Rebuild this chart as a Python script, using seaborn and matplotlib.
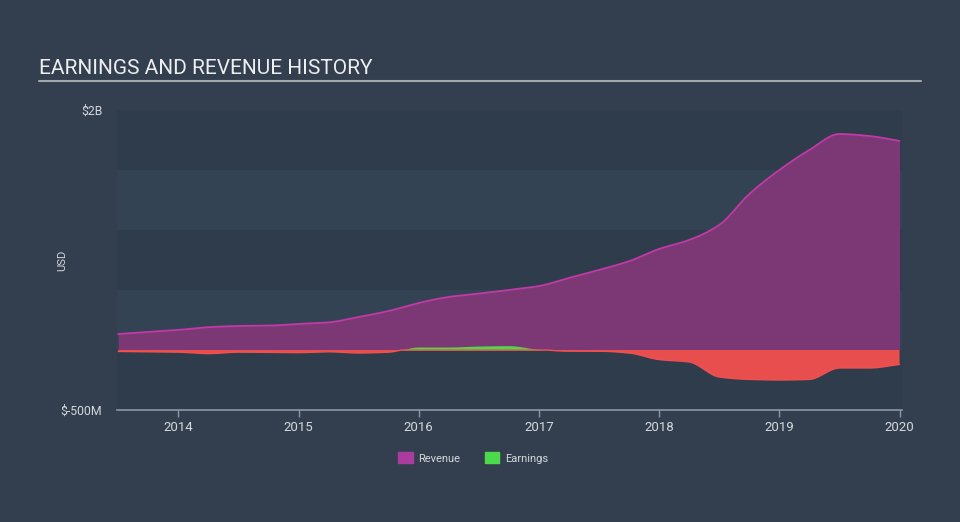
import matplotlib
matplotlib.use("Agg")
import matplotlib.pyplot as plt
import matplotlib.patches as mpatches
import seaborn as sns
import numpy as np
import pandas as pd

# ---- data ----
years = [2013.5, 2013.75, 2014.0, 2014.25, 2014.5, 2014.75, 2015.0, 2015.25,
         2015.5, 2015.75, 2016.0, 2016.25, 2016.5, 2016.75, 2017.0, 2017.25,
         2017.5, 2017.75, 2018.0, 2018.25, 2018.5, 2018.75, 2019.0, 2019.25,
         2019.5, 2019.75, 2020.0]
revenue_m = [133, 150, 167, 190, 200, 203, 217, 230,
             275, 325, 392, 442, 470, 500, 533, 600,
             667, 740, 842, 917, 1042, 1300, 1500, 1667,
             1800, 1783, 1742]
earnings_m = [-12, -15, -18, -30, -18, -20, -22, -15,
              -25, -18, 25, 25, 33, 36, 5, -10,
              -10, -25, -80, -100, -225, -245, -250, -245,
              -150, -150, -120]
x_ticks = [2014, 2015, 2016, 2017, 2018, 2019, 2020]
y_tick_vals = [-500, 2000]
y_tick_labels = ["$-500M", "$2B"]

df = pd.DataFrame({"year": years, "Revenue": revenue_m, "Earnings": earnings_m})


def pchip(x, y, n=12):
    """Monotone cubic rendering of a series (drawing only)."""
    x = np.asarray(x, float); y = np.asarray(y, float)
    h = np.diff(x); d = np.diff(y) / h
    m = np.zeros_like(y)
    for k in range(1, len(x) - 1):
        if d[k-1] * d[k] > 0:
            w1 = 2*h[k] + h[k-1]; w2 = h[k] + 2*h[k-1]
            m[k] = (w1 + w2) / (w1/d[k-1] + w2/d[k])
    m[0] = d[0]; m[-1] = d[-1]
    xs, ys = [], []
    for k in range(len(x) - 1):
        t = np.linspace(0, 1, n, endpoint=False)
        h00 = 2*t**3 - 3*t**2 + 1; h10 = t**3 - 2*t**2 + t
        h01 = -2*t**3 + 3*t**2; h11 = t**3 - t**2
        xs.append(x[k] + t*h[k])
        ys.append(h00*y[k] + h10*h[k]*m[k] + h01*y[k+1] + h11*h[k]*m[k+1])
    xs.append([x[-1]]); ys.append([y[-1]])
    return np.concatenate(xs), np.concatenate(ys)


BG = "#333f4f"
DARK = "#2f3c4c"
LIGHT = "#344354"
REV_FILL = "#7b3874"
REV_LINE = "#c23aa8"
EARN_NEG = "#e84e4e"
EARN_POS = "#4cd94c"
TXT = "#d4d8dc"

sns.set_theme(style="dark")
plt.rcParams['font.family'] = ['Roboto', 'DejaVu Sans']

fig = plt.figure(figsize=(9.6, 5.22), dpi=100, facecolor=BG)
ax = fig.add_axes([117/960, 1-410/522, 785/960, 300/522])
ax.set_facecolor(BG)

x0, x1 = 2013.49, 2020.02
ax.set_xlim(x0, x1)
ax.set_ylim(-500, 2000)

# bands
for i, lo in enumerate(range(-500, 2000, 500)):
    ax.axhspan(lo, lo+500, color=DARK if i % 2 == 0 else LIGHT, lw=0, zorder=0)

# revenue
rx, ry = pchip(df["year"], df["Revenue"])
smooth_rev = pd.DataFrame({"year": rx, "Revenue": ry})
ax.fill_between(rx, 0, ry, color=REV_FILL, lw=0, zorder=2)
sns.lineplot(data=smooth_rev, x="year", y="Revenue", color=REV_LINE, lw=1.3, ax=ax, zorder=3)

# earnings
ex, ey = pchip(df["year"], df["Earnings"])
ax.fill_between(ex, 0, ey, where=ey <= 0, interpolate=True, color=EARN_NEG, lw=0, zorder=4)
ax.fill_between(ex, 0, ey, where=ey >= 0, interpolate=True, color=EARN_POS, lw=0, zorder=4)
ax.plot(ex, np.minimum(ey, 0), color="#f05050", lw=1.0, zorder=5)

ax.set_xlabel("")
ax.set_ylabel("")
ax.set_xticks(x_ticks)
ax.set_xticklabels([str(t) for t in x_ticks], color=TXT, fontsize=9.5)
ax.set_yticks(y_tick_vals)
ax.set_yticklabels(y_tick_labels, color=TXT, fontsize=8.8)
ax.tick_params(axis="x", length=5, width=1, color="#8b97a4", pad=3, bottom=True)
ax.tick_params(axis="y", length=0, pad=10.5)
ax.grid(False)
for s in ["top", "right", "left"]:
    ax.spines[s].set_visible(False)
ax.spines["bottom"].set_color("#8b97a4")
ax.spines["bottom"].set_linewidth(1.2)

# y label
fig.text(62/960, 1-260/522, "USD", rotation=90, color=TXT, fontsize=8, ha="center", va="center")

# title
fig.text(39/960, 1-68/522, "EARNINGS AND REVENUE HISTORY", color="#eceef0", fontsize=15,
         ha="left", va="center")
fig.add_artist(plt.Line2D([39/960, 921/960], [1-81/522, 1-81/522], color="#a3a8ae", lw=1.5))

# legend
handles = [mpatches.Patch(color="#a93c9c", label="Revenue"),
           mpatches.Patch(color=EARN_POS, label="Earnings")]
leg = fig.legend(handles=handles, loc="center", bbox_to_anchor=(473/960, 1-458/522), ncol=2,
                 frameon=False, fontsize=8, handlelength=1.3, handleheight=1.1,
                 columnspacing=2.2, handletextpad=0.5)
for t in leg.get_texts():
    t.set_color(TXT)

fig.savefig("out.png", dpi=100, facecolor=BG)
